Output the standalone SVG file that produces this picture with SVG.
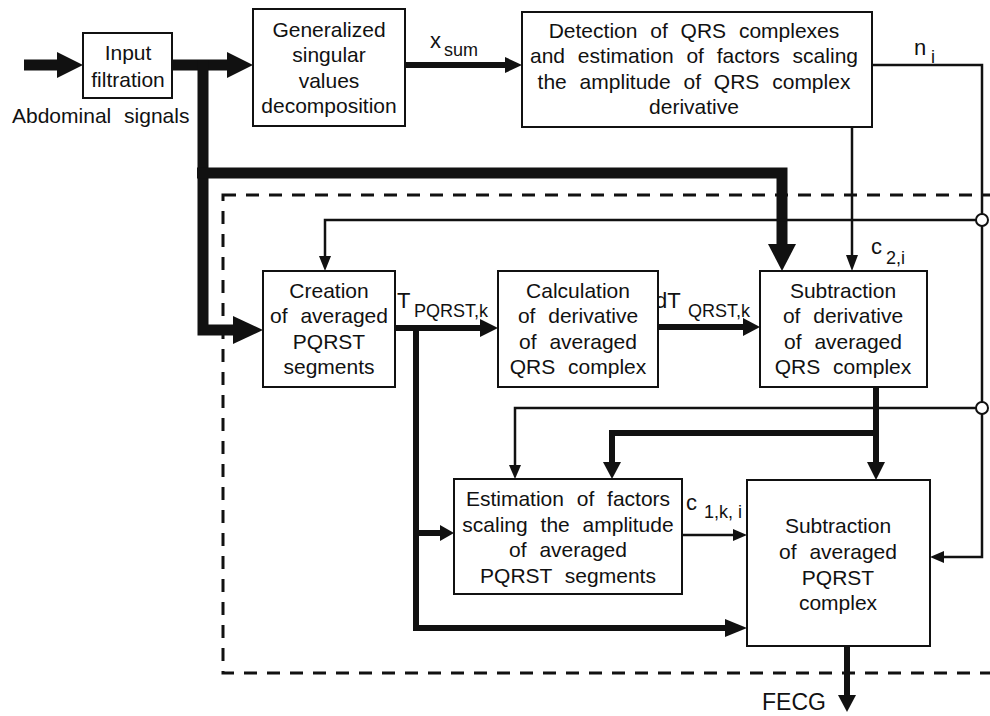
<svg xmlns="http://www.w3.org/2000/svg" width="990" height="716" viewBox="0 0 990 716">
<style>
text{font-family:"Liberation Sans",Arial,sans-serif;fill:#111;}
.t{font-size:21px;text-anchor:middle;word-spacing:7px;}
.lbl{font-size:22px;}
.sub{font-size:18px;}
.box{fill:#fff;stroke:#111;stroke-width:2;}
.thin{fill:none;stroke:#111;stroke-width:2.5;}
.mid{fill:none;stroke:#111;stroke-width:6;}
.thick{fill:none;stroke:#111;stroke-width:11;}
.head{fill:#111;}
.dash{fill:none;stroke:#111;stroke-width:3;stroke-dasharray:13 10;}
.node{fill:#fff;stroke:#111;stroke-width:2;}
</style>
<rect width="990" height="716" fill="#fff"/>
<rect class="dash" x="223" y="195" width="790" height="478"/>
<g id="connectors">
  <line class="thick" x1="24" y1="65" x2="60" y2="65"/>
  <polygon class="head" points="57,52 83,65 57,78"/>
  <line class="thick" x1="172" y1="65" x2="229" y2="65"/>
  <polygon class="head" points="227,52 253,65 227,78"/>
  <polyline class="thick" points="203,60 203,330 236,330"/>
  <polygon class="head" points="233,316 263,330 233,344"/>
  <polyline class="thick" points="197,173 782,173 782,247"/>
  <polygon class="head" points="768,244 796,244 782,271"/>
  <line class="mid" x1="405" y1="65" x2="507" y2="65"/>
  <polygon class="head" points="505,57 522,65 505,73"/>
  <polyline class="thin" points="872,65 982,65 982,557 942,557" stroke-width="3"/>
  <polygon class="head" points="944,551 930,557 944,563"/>
  <line class="thin" x1="852" y1="127" x2="852" y2="257"/>
  <polygon class="head" points="846,255 858,255 852,271"/>
  <polyline class="thin" points="982,220 325,220 325,258"/>
  <polygon class="head" points="319,256 331,256 325,271"/>
  <line class="mid" x1="395" y1="328" x2="482" y2="328"/>
  <polygon class="head" points="480,319 498,328 480,337"/>
  <polyline class="mid" points="416,325 416,628 727,628" stroke-width="7"/>
  <polygon class="head" points="725,619 747,628 725,637"/>
  <line class="mid" x1="416" y1="533" x2="442" y2="533"/>
  <polygon class="head" points="440,525 454,533 440,541"/>
  <line class="mid" x1="658" y1="327" x2="745" y2="327"/>
  <polygon class="head" points="743,318 760,327 743,336"/>
  <polyline class="mid" points="876,387 876,464" stroke-width="7"/>
  <polygon class="head" points="867,462 885,462 876,480"/>
  <polyline class="mid" points="876,433 612,433 612,464" stroke-width="7"/>
  <polygon class="head" points="603,462 621,462 612,479"/>
  <polyline class="thin" points="982,408 515,408 515,467"/>
  <polygon class="head" points="509,465 521,465 515,479"/>
  <line class="thin" x1="682" y1="535" x2="735" y2="535"/>
  <polygon class="head" points="733,529 747,535 733,541"/>
  <line class="mid" x1="847" y1="646" x2="847" y2="697" stroke-width="8"/>
  <polygon class="head" points="838,695 856,695 847,712"/>
  <circle class="node" cx="982" cy="220" r="6"/>
  <circle class="node" cx="982" cy="408" r="6"/>
</g>
<g id="labels">
  <text x="12" y="123" style="font-size:21px;word-spacing:7px">Abdominal signals</text>
  <text class="lbl" x="430" y="48">x</text><text class="sub" x="444" y="56">sum</text>
  <text class="lbl" x="914" y="55">n</text><text class="sub" x="931" y="63">i</text>
  <text class="lbl" x="871" y="254">c</text><text class="sub" x="886" y="264">2,i</text>
  <text class="lbl" x="397" y="308">T</text><text class="sub" x="414" y="317">PQRST,k</text>
  <text class="lbl" x="655" y="308">dT</text><text class="sub" x="688" y="317">QRST,k</text>
  <text class="lbl" x="686" y="510">c</text><text class="sub" x="704" y="518">1,k, i</text>
  <text class="lbl" x="762" y="710" style="font-size:23px">FECG</text>
</g>
<g id="input-filtration">
  <rect class="box" x="83" y="33" width="89" height="65"/>
  <text class="t" x="128" y="60">Input</text>
  <text class="t" x="128" y="87">filtration</text>
</g>
<g id="gsvd">
  <rect class="box" x="253" y="9" width="152" height="117"/>
  <text class="t" x="329" y="37">Generalized</text>
  <text class="t" x="329" y="62">singular</text>
  <text class="t" x="329" y="88">values</text>
  <text class="t" x="329" y="113">decomposition</text>
</g>
<g id="detection">
  <rect class="box" x="522" y="12" width="350" height="115"/>
  <text class="t" x="694" y="38">Detection of QRS complexes</text>
  <text class="t" x="694" y="63">and estimation of factors scaling</text>
  <text class="t" x="694" y="89">the amplitude of QRS complex</text>
  <text class="t" x="694" y="114">derivative</text>
</g>
<g id="creation">
  <rect class="box" x="263" y="271" width="132" height="116"/>
  <text class="t" x="329" y="298">Creation</text>
  <text class="t" x="329" y="323">of averaged</text>
  <text class="t" x="329" y="349">PQRST</text>
  <text class="t" x="329" y="374">segments</text>
</g>
<g id="calculation">
  <rect class="box" x="498" y="271" width="160" height="116"/>
  <text class="t" x="578" y="298">Calculation</text>
  <text class="t" x="578" y="323">of derivative</text>
  <text class="t" x="578" y="349">of averaged</text>
  <text class="t" x="578" y="374">QRS complex</text>
</g>
<g id="subtraction-derivative">
  <rect class="box" x="760" y="271" width="167" height="116"/>
  <text class="t" x="843" y="298">Subtraction</text>
  <text class="t" x="843" y="323">of derivative</text>
  <text class="t" x="843" y="349">of averaged</text>
  <text class="t" x="843" y="374">QRS complex</text>
</g>
<g id="estimation">
  <rect class="box" x="454" y="479" width="228" height="115"/>
  <text class="t" x="568" y="506">Estimation of factors</text>
  <text class="t" x="568" y="532">scaling the amplitude</text>
  <text class="t" x="568" y="557">of averaged</text>
  <text class="t" x="568" y="583">PQRST segments</text>
</g>
<g id="subtraction-pqrst">
  <rect class="box" x="747" y="480" width="183" height="166"/>
  <text class="t" x="838" y="533">Subtraction</text>
  <text class="t" x="838" y="559">of averaged</text>
  <text class="t" x="838" y="585">PQRST</text>
  <text class="t" x="838" y="610">complex</text>
</g>
</svg>
